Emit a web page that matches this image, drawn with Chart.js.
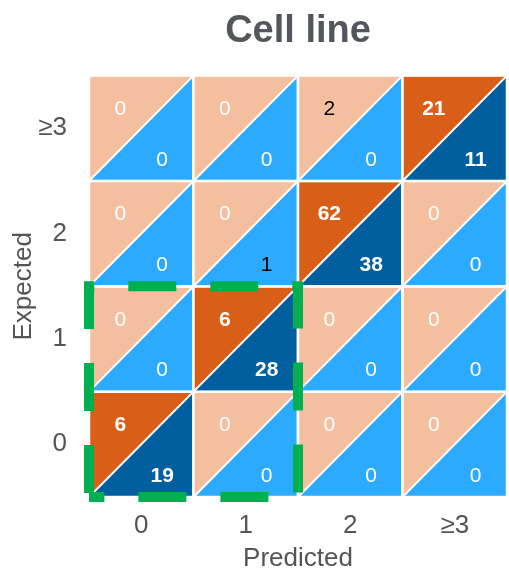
<!DOCTYPE html>
<html>
<head>
<meta charset="utf-8">
<script src="https://cdn.jsdelivr.net/npm/chart.js@4.4.1/dist/chart.umd.min.js"></script>
<style>
  html, body { margin: 0; padding: 0; background: #fff; }
  #wrap { width: 509px; height: 571px; }
</style>
</head>
<body>
<div id="wrap"><canvas id="cellChart"></canvas></div>
<script>
// Nhãn trục
const predictedLabels = ['0', '1', '2', '≥3'];
const expectedLabels = ['0', '1', '2', '≥3'];

// Giá trị ô (hàng = Expected 0..≥3, cột = Predicted 0..≥3)
const upperValues = [
    [6, 0, 0, 0],
    [0, 6, 0, 0],
    [0, 0, 62, 0],
    [0, 0, 2, 21]
];
const lowerValues = [
    [19, 0, 0, 0],
    [0, 28, 0, 0],
    [0, 1, 38, 0],
    [0, 0, 0, 11]
];

// Vùng được khoanh (Predicted 0-1, Expected 0-1)
const boxPredicted = [0, 1];
const boxExpected = [0, 1];

const FONT = "'Liberation Sans', Arial, sans-serif";
const colors = {
    upperLight: '#F4BF9F',
    upperDark: '#D95F18',
    lowerLight: '#2CAAFF',
    lowerDark: '#015F9F'
};

const cellPlugin = {
    id: 'cells',
    beforeDatasetsDraw(chart) {
        const ctx = chart.ctx;
        const xs = chart.scales.x;
        const ys = chart.scales.y;
        ctx.save();
        upperValues.forEach((row, r) => {
            row.forEach((upper, c) => {
                const lower = lowerValues[r][c];
                const dark = r === c;
                const x0 = xs.getPixelForValue(c - 0.5);
                const x1 = xs.getPixelForValue(c + 0.5);
                const y0 = ys.getPixelForValue(r + 0.5);
                const y1 = ys.getPixelForValue(r - 0.5);
                const w = x1 - x0, h = y1 - y0;

                ctx.beginPath();
                ctx.moveTo(x0, y0); ctx.lineTo(x1, y0); ctx.lineTo(x0, y1); ctx.closePath();
                ctx.fillStyle = dark ? colors.upperDark : colors.upperLight;
                ctx.fill();

                ctx.beginPath();
                ctx.moveTo(x1, y0); ctx.lineTo(x1, y1); ctx.lineTo(x0, y1); ctx.closePath();
                ctx.fillStyle = dark ? colors.lowerDark : colors.lowerLight;
                ctx.fill();

                // Viền trắng
                ctx.strokeStyle = '#fff';
                ctx.lineWidth = 2.5;
                ctx.strokeRect(x0, y0, w, h);
                ctx.lineWidth = 2;
                ctx.beginPath();
                ctx.moveTo(x1, y0); ctx.lineTo(x0, y1);
                ctx.stroke();

                // Số liệu
                ctx.textAlign = 'center';
                ctx.textBaseline = 'middle';
                [[upper, 0.3, 0.32], [lower, 0.7, 0.8]].forEach(([v, fx, fy]) => {
                    ctx.font = (dark ? 'bold ' : '') + '21px ' + FONT;
                    ctx.fillStyle = dark || v === 0 ? '#fff' : '#000';
                    ctx.fillText(String(v), x0 + fx * w, y0 + fy * h);
                });
            });
        });
        ctx.restore();
    },
    afterDatasetsDraw(chart) {
        const ctx = chart.ctx;
        const xs = chart.scales.x;
        const ys = chart.scales.y;
        const left = xs.getPixelForValue(boxPredicted[0] - 0.5);
        const right = xs.getPixelForValue(boxPredicted[1] + 0.5);
        const top = ys.getPixelForValue(boxExpected[1] + 0.5);
        const bottom = ys.getPixelForValue(boxExpected[0] - 0.5);
        ctx.save();
        ctx.strokeStyle = '#00B050';
        ctx.lineWidth = 10;
        ctx.setLineDash([48, 34]);
        ctx.lineDashOffset = -4;
        ctx.beginPath();
        ctx.moveTo(left, bottom);
        ctx.lineTo(left, top);
        ctx.lineTo(right, top);
        ctx.lineTo(right, bottom);
        ctx.closePath();
        ctx.stroke();
        ctx.restore();
    }
};

const cellPoints = [];
upperValues.forEach((row, r) => row.forEach((v, c) => cellPoints.push({ x: c, y: r })));

new Chart(document.getElementById('cellChart'), {
    type: 'scatter',
    data: {
        datasets: [{ data: cellPoints, pointRadius: 0, pointHoverRadius: 0 }]
    },
    options: {
        responsive: true,
        maintainAspectRatio: false,
        animation: false,
        layout: { padding: { right: 2, left: 0, top: 0, bottom: 0 } },
        plugins: {
            legend: { display: false },
            tooltip: { enabled: false },
            title: {
                display: true,
                text: 'Cell line',
                fullSize: false,
                color: '#53565C',
                font: { family: FONT, size: 38, weight: 'bold' },
                padding: { top: 9, bottom: 21 }
            }
        },
        scales: {
            x: {
                type: 'linear',
                min: -0.5,
                max: 3.5,
                grid: { display: false, drawTicks: false },
                border: { display: false },
                afterBuildTicks: s => { s.ticks = predictedLabels.map((_, i) => ({ value: i })); },
                afterFit: s => { s.height = 74; },
                ticks: {
                    padding: 13,
                    color: '#555',
                    font: { family: FONT, size: 26 },
                    callback: v => predictedLabels[v]
                },
                title: {
                    display: true,
                    text: 'Predicted',
                    color: '#555',
                    font: { family: FONT, size: 26 },
                    padding: { top: 0, bottom: -3 }
                }
            },
            y: {
                type: 'linear',
                min: -0.5,
                max: 3.5,
                grid: { display: false, drawTicks: false },
                border: { display: false },
                afterBuildTicks: s => { s.ticks = expectedLabels.map((_, i) => ({ value: i })); },
                afterFit: s => { s.width = 89; },
                ticks: {
                    padding: 22,
                    color: '#555',
                    font: { family: FONT, size: 26 },
                    callback: v => expectedLabels[v]
                },
                title: {
                    display: true,
                    text: 'Expected',
                    color: '#555',
                    font: { family: FONT, size: 26 },
                    padding: { top: 8, bottom: 0 }
                }
            }
        }
    },
    plugins: [cellPlugin]
});
</script>
</body>
</html>
